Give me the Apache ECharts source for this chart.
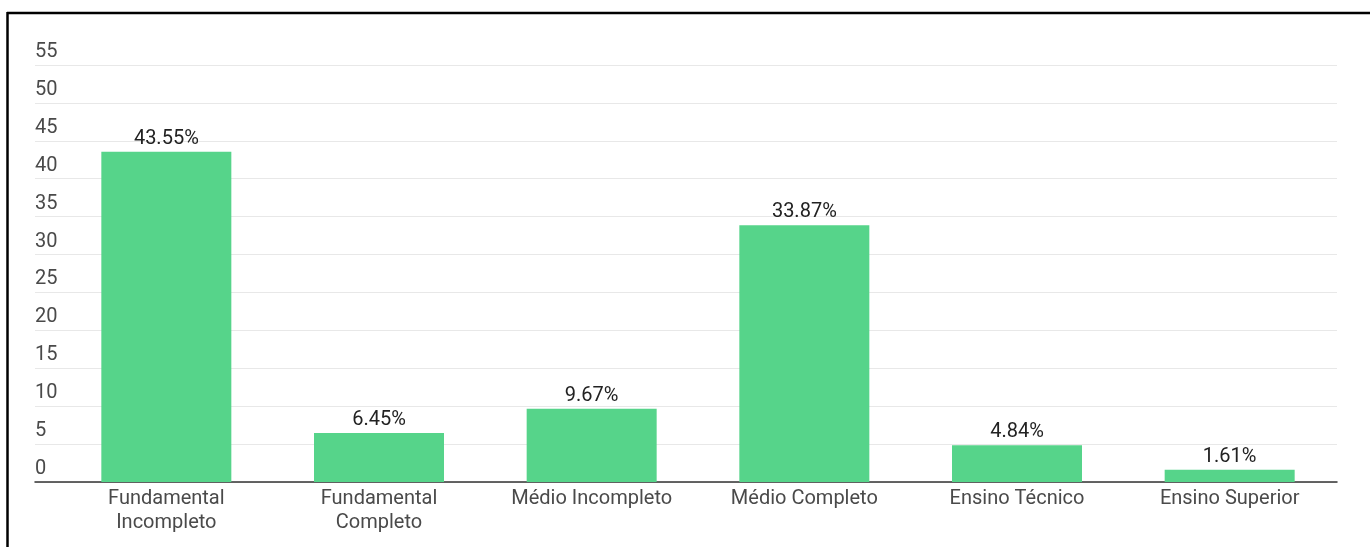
<!DOCTYPE html>
<html>
<head>
<meta charset="utf-8">
<style>
  html, body { margin: 0; padding: 0; background: #fff; }
  #chart { width: 1370px; height: 547px; }
</style>
<script src="https://cdn.jsdelivr.net/npm/echarts@6/dist/echarts.min.js"></script>
</head>
<body>
<div id="chart"></div>
<script>
// Escolaridade (percentual)
const categories = [
  'Fundamental\nIncompleto',
  'Fundamental\nCompleto',
  'Médio Incompleto',
  'Médio Completo',
  'Ensino Técnico',
  'Ensino Superior'
];
const values = [43.55, 6.45, 9.67, 33.87, 4.84, 1.61];
const yTicks = { min: 0, max: 55, interval: 5 };

const chart = echarts.init(document.getElementById('chart'), null, { renderer: 'canvas' });
const font = 'Roboto, "Noto Sans", sans-serif';

chart.setOption({
  animation: false,
  backgroundColor: '#fff',
  grid: [
    { left: 35, right: 33, top: 65, bottom: 65 },
    { left: 60, right: 34, top: 65, bottom: 65 }
  ],
  xAxis: [
    {
      gridIndex: 0, type: 'value', min: 0, max: 1,
      axisLine: { show: true, onZero: false, lineStyle: { color: '#333', width: 1.5 } },
      axisTick: { show: false }, axisLabel: { show: false }, splitLine: { show: false }
    },
    {
      gridIndex: 1, type: 'category', data: categories,
      axisLine: { show: false }, axisTick: { show: false },
      axisLabel: {
        margin: 5, color: '#4a4a4a', fontSize: 20, lineHeight: 24,
        fontFamily: font, interval: 0
      }
    }
  ],
  yAxis: [
    {
      gridIndex: 0, type: 'value', min: yTicks.min, max: yTicks.max, interval: yTicks.interval,
      axisLine: { show: false }, axisTick: { show: false },
      axisLabel: {
        inside: true, margin: 0, align: 'left', verticalAlign: 'bottom',
        padding: [0, 0, 3, 0], color: '#4a4a4a', fontSize: 20, fontFamily: font
      },
      splitLine: { lineStyle: { color: '#e8e8e8', width: 1.2 } }
    },
    {
      gridIndex: 1, type: 'value', min: yTicks.min, max: yTicks.max, interval: yTicks.interval,
      show: false, splitLine: { show: false }
    }
  ],
  series: [
    {
      type: 'bar', xAxisIndex: 1, yAxisIndex: 1,
      data: values, barWidth: 130,
      itemStyle: { color: '#56d48a' },
      label: {
        show: true, position: 'top', distance: 3,
        color: '#222', fontSize: 20, fontFamily: font,
        formatter: p => p.value.toFixed(2) + '%'
      }
    }
  ],
  graphic: [
    { type: 'line', shape: { x1: 7, y1: 13, x2: 1370, y2: 13 }, style: { stroke: '#000', lineWidth: 2.5 } },
    { type: 'line', shape: { x1: 7.5, y1: 12, x2: 7.5, y2: 547 }, style: { stroke: '#000', lineWidth: 2.5 } }
  ]
});
</script>
</body>
</html>
